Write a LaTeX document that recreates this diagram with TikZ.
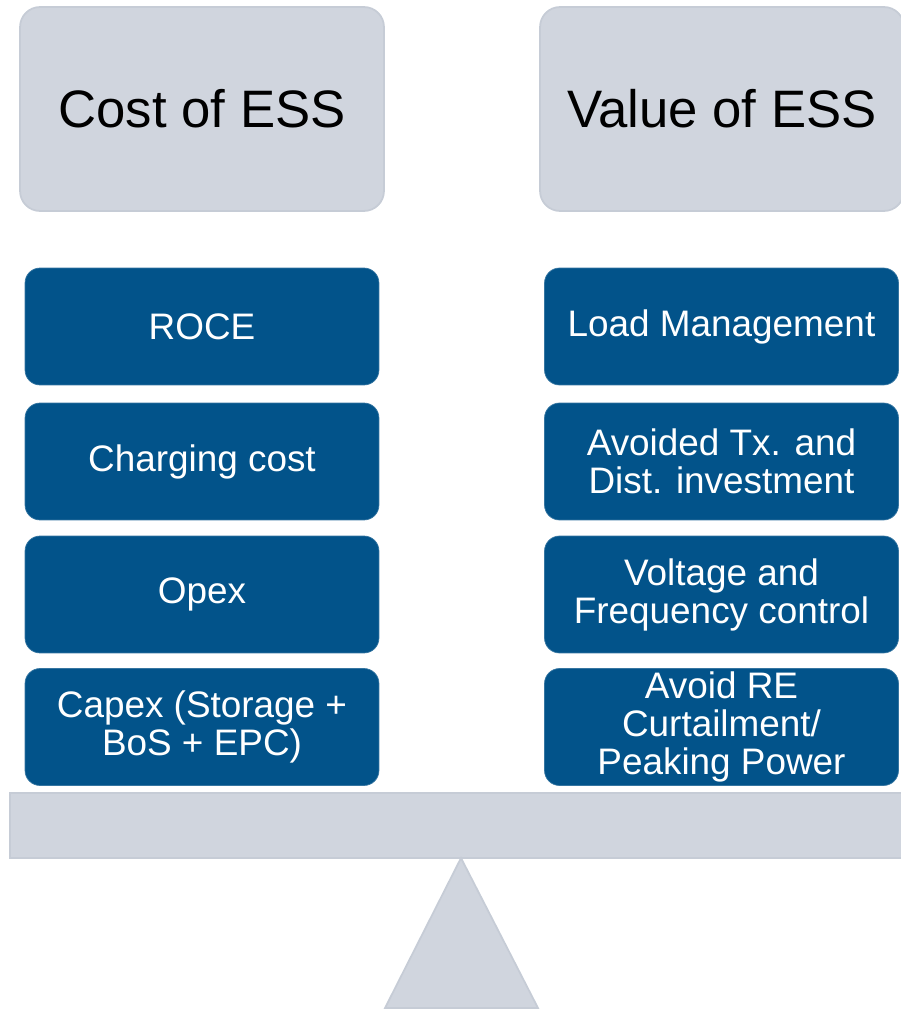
\documentclass[tikz,border=0pt]{standalone}
\usepackage{fontspec}
\setmainfont{Liberation Sans}
\usepackage{tikz}
\usetikzlibrary{shapes.geometric}

\definecolor{scalegray}{HTML}{D0D5DE}
\definecolor{scaleedge}{HTML}{C6CCD6}
\definecolor{itemblue}{HTML}{02538A}

\begin{document}
\begin{tikzpicture}[x=0.02cm, y=-0.02cm,
                header/.style={rectangle, rounded corners=0.4cm, draw=scaleedge, line width=1pt, fill=scalegray, minimum width=7.28cm, minimum height=4.08cm, font=\fontsize{30}{32}\selectfont}, % Heading boxes
                item/.style={rectangle, rounded corners=0.3cm, draw=itemblue!80!white, fill=itemblue, text=white, inner sep=1pt, minimum width=7.08cm, minimum height=2.34cm, align=center, font=\fontsize{21}{21.6}\selectfont}, % Blue boxes
                weight/.style={draw=scaleedge, line width=1pt, fill=scalegray} % Beam and pivot
                ]
                \useasboundingbox (0,0) rectangle (900,1010);
                \node[header] (costhead) at (202,109) {Cost of ESS};
                \node[header] (valuehead) at (722,109) {Value of ESS};

                \node[item] (roce) at (202,326.5) {ROCE};
                \node[item] (charging) at (202,461.5) {Charging cost};
                \node[item] (opex) at (202,594.5) {Opex};
                \node[item] (capex) at (202,727) {Capex (Storage +\\BoS + EPC)};

                \node[item] (load) at (721.5,326.5) {Load Management};
                \node[item] (avoided) at (721.5,461.5) {Avoided Tx. and\\Dist. investment};
                \node[item] (voltage) at (721.5,594.5) {Voltage and\\Frequency control};
                \node[item] (curtail) at (721.5,727) {Avoid RE\\Curtailment/\\Peaking Power};

                \draw[weight] (10,793) rectangle (910,858);
                \draw[weight] (461,858) -- (538,1008) -- (385,1008) -- cycle;
            \end{tikzpicture}
\end{document}
